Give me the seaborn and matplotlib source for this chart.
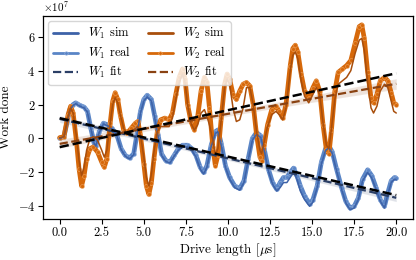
import numpy as np
import pandas as pd
import seaborn as sns
import matplotlib
matplotlib.use("Agg")
import matplotlib.pyplot as plt
from matplotlib.lines import Line2D

# ---- data (units of 1e7) ----
t1 = [0.0, 0.25, 0.45, 0.6, 0.8, 0.95, 1.2, 1.45, 1.65, 1.85, 2.05, 2.15, 2.35, 2.6, 2.85, 3.1, 3.4, 3.65, 3.9, 4.15,
      4.4, 4.6, 4.8, 5.0, 5.2, 5.45, 5.65, 5.85, 6.05, 6.3, 6.55, 6.8, 7.05, 7.3, 7.6, 7.85, 8.1, 8.35, 8.55, 8.75,
      9.0, 9.25, 9.4, 9.6, 9.85, 10.1, 10.4, 10.7, 10.95, 11.2, 11.45, 11.7, 11.95, 12.15, 12.4, 12.65, 12.9, 13.1,
      13.3, 13.5, 13.7, 13.9, 14.1, 14.3, 14.55, 14.85, 15.05, 15.3, 15.55, 15.8, 16.0, 16.2, 16.45, 16.75, 17.0,
      17.25, 17.5, 17.75, 18.0, 18.3, 18.55, 18.8, 19.05, 19.3, 19.5, 19.7, 19.9, 20.0]
w1_real = [0.0, 0.1, 1.0, 1.7, 2.0, 2.1, 1.95, 1.85, 1.6, 0.6, -0.3, -0.45, 0.4, 0.9, 0.8, 0.6, 0.2, -0.6, -1.0, -1.15,
           -0.9, 0.3, 1.6, 2.3, 2.55, 2.3, 1.3, 0.2, -0.9, -1.3, -1.4, -1.0, -0.6, -0.4, -0.4, -0.6, -1.0, -1.7, -2.0,
           -1.6, -0.4, 0.4, 0.5, -0.3, -1.6, -2.3, -2.8, -2.95, -2.5, -1.2, 0.0, 0.35, 0.15, -0.6, -1.8, -2.6, -3.0,
           -2.6, -2.3, -2.3, -2.0, -1.75, -2.2, -2.8, -3.4, -3.85, -3.6, -2.8, -1.4, -0.6, -0.45, -0.8, -1.8, -2.9,
           -3.7, -4.1, -4.0, -3.5, -2.4, -1.85, -2.2, -2.9, -3.6, -4.0, -3.2, -2.5, -2.3, -2.35]
w1_sim = [0.0, 0.1, 0.95, 1.65, 1.95, 2.05, 1.9, 1.8, 1.55, 0.6, -0.3, -0.45, 0.35, 0.85, 0.75, 0.55, 0.15, -0.65, -1.05, -1.2,
          -0.95, 0.25, 1.5, 2.2, 2.45, 2.2, 1.2, 0.1, -1.0, -1.35, -1.45, -1.05, -0.7, -0.5, -0.5, -0.7, -1.1, -1.8, -2.1,
          -1.7, -0.5, 0.3, 0.4, -0.4, -1.7, -2.4, -2.9, -3.05, -2.6, -1.3, -0.1, 0.25, 0.05, -0.7, -1.9, -2.7, -3.1,
          -2.9, -2.6, -2.6, -2.3, -2.0, -2.4, -3.1, -3.6, -4.0, -3.75, -2.9, -1.5, -0.7, -0.55, -0.9, -1.9, -3.0,
          -3.8, -4.2, -4.1, -3.6, -2.5, -2.0, -2.35, -3.0, -3.7, -4.1, -3.3, -2.6, -2.4, -2.45]

t2 = [0.0, 0.25, 0.5, 0.65, 0.8, 1.0, 1.15, 1.3, 1.45, 1.6, 1.8, 2.0, 2.25, 2.5, 2.65, 2.8, 3.0, 3.15, 3.3, 3.45, 3.6,
      3.8, 4.0, 4.25, 4.5, 4.65, 4.8, 5.0, 5.15, 5.3, 5.45, 5.6, 5.8, 6.0, 6.25, 6.5, 6.7, 6.9, 7.1, 7.3, 7.45, 7.6,
      7.8, 8.0, 8.2, 8.4, 8.6, 8.75, 8.9, 9.1, 9.25, 9.4, 9.6, 9.8, 9.95, 10.1, 10.3, 10.5, 10.7, 10.9, 11.1, 11.3,
      11.5, 11.7, 11.9, 12.0, 12.15, 12.35, 12.6, 12.85, 13.05, 13.25, 13.45, 13.7, 13.85, 14.0, 14.15, 14.35, 14.55,
      14.8, 15.05, 15.25, 15.45, 15.65, 15.85, 16.0, 16.15, 16.35, 16.55, 16.8, 17.05, 17.3, 17.55, 17.8, 17.95,
      18.1, 18.3, 18.5, 18.65, 18.85, 19.05, 19.3, 19.5, 19.7, 19.85, 20.0]
w2_real = [0.05, 0.1, 1.4, 1.9, 1.5, -0.2, -1.8, -2.8, -2.2, -1.2, -0.6, -0.5, -0.8, -1.4, -1.7, -1.2, 0.9, 2.2, 2.7,
           2.3, 1.4, 0.5, 0.3, 0.6, 0.9, 1.0, 0.2, -1.5, -2.8, -3.3, -2.6, -1.2, 0.4, 1.1, 1.2, 1.1, 1.5, 2.6, 3.6,
           4.1, 3.5, 2.0, 1.0, 0.5, 1.3, 2.8, 3.6, 3.3, 1.8, -0.5, -1.6, -1.0, 1.2, 3.2, 3.8, 3.5, 2.6, 2.3, 2.8, 3.2,
           3.3, 3.1, 2.0, 0.2, -1.1, -1.3, -0.4, 0.8, 1.7, 1.9, 1.6, 1.2, 2.0, 4.3, 5.3, 5.5, 5.1, 3.8, 2.8, 2.4, 3.0,
           3.4, 2.8, 0.8, -0.7, -0.9, 0.5, 2.8, 3.9, 4.1, 4.3, 4.6, 5.6, 6.6, 6.7, 5.9, 3.9, 2.4, 2.1, 2.6, 3.4, 3.6,
           3.4, 2.7, 2.1, 2.0]
w2_sim = [0.05, 0.1, 1.3, 1.8, 1.5, 0.1, -1.3, -2.2, -1.7, -0.7, 0.0, 0.1, -0.1, -0.7, -1.1, -0.7, 0.9, 2.0, 2.4,
          2.1, 1.4, 0.6, 0.3, 0.4, 0.6, 0.7, 0.2, -1.1, -2.3, -2.8, -2.1, -0.8, 0.4, 0.7, 0.7, 0.7, 1.2, 2.3, 3.3,
          3.8, 3.3, 2.0, 0.9, 0.5, 0.8, 1.5, 1.7, 1.3, 0.8, -0.1, -1.0, -0.6, 1.1, 3.0, 3.5, 3.2, 1.8, 1.0, 1.1, 1.8,
          3.0, 3.0, 2.0, 0.4, -0.7, -0.9, -0.2, 0.7, 1.4, 1.6, 1.4, 1.1, 1.8, 4.0, 4.9, 5.1, 4.7, 3.4, 2.5, 2.1, 2.6,
          3.0, 2.6, 0.9, -0.4, -0.6, 0.6, 2.3, 3.2, 3.4, 3.6, 4.0, 5.0, 5.8, 5.9, 5.2, 3.3, 1.8, 1.5, 1.9, 2.8, 3.2,
          3.0, 2.2, 1.6, 1.5]

SCALE = 1e7
labels = ["$W_1$ sim", "$W_1$ real", "$W_1$ fit", "$W_2$ sim", "$W_2$ real", "$W_2$ fit"]

# colours
c1_sim, c1_real, c1_fit = "#3D62A8", "#5A85C6", "#2B3F66"
c2_sim, c2_real, c2_fit = "#A84E0C", "#D6680A", "#8A4212"
e1_real, e2_real = "#9DB6E0", "#F2AE6E"

sns.set_theme(style="ticks")
plt.rcParams.update({
    "font.family": ["serif"],
    "font.serif": ["cmr10", "DejaVu Serif"],
    "mathtext.fontset": "cm",
    "axes.formatter.use_mathtext": True,
    "axes.unicode_minus": True,
    "font.size": 9,
    "axes.labelsize": 9.5,
    "xtick.labelsize": 9,
    "ytick.labelsize": 9,
    "legend.fontsize": 9,
    "axes.edgecolor": "black",
    "xtick.color": "black",
    "ytick.color": "black",
    "axes.labelcolor": "black",
    "text.color": "black",
})

df1 = pd.DataFrame({"t": t1, "real": np.array(w1_real) * SCALE, "sim": np.array(w1_sim) * SCALE})
df2 = pd.DataFrame({"t": t2, "real": np.array(w2_real) * SCALE, "sim": np.array(w2_sim) * SCALE})

fig = plt.figure(figsize=(4.16, 2.6), dpi=100)
ax = fig.add_axes([0.103, 0.158, 0.890, 0.782])

for df, cs, cr, cf, ce in [(df1, c1_sim, c1_real, c1_fit, e1_real), (df2, c2_sim, c2_real, c2_fit, e2_real)]:
    sns.regplot(data=df, x="t", y="sim", scatter=False, ci=68, seed=0, color=cf, ax=ax,
                line_kws=dict(ls="--", lw=1.6, zorder=4))
    sns.lineplot(data=df, x="t", y="real", color=cr, lw=3.4, marker="o", markersize=2.8,
                 mew=0.35, mec=ce, ax=ax, zorder=2)
    sns.lineplot(data=df, x="t", y="sim", color=cs, lw=1.1, ax=ax, zorder=3)
    sns.regplot(data=df, x="t", y="real", scatter=False, ci=None, color="black", ax=ax,
                line_kws=dict(ls="--", lw=1.8, zorder=5))

ax.set_xlabel(r"Drive length [$\mu$s]", labelpad=2)
ax.set_ylabel("Work done", labelpad=4)
ax.set_xticks([0, 2.5, 5, 7.5, 10, 12.5, 15, 17.5, 20])
ax.set_xticklabels(["0.0", "2.5", "5.0", "7.5", "10.0", "12.5", "15.0", "17.5", "20.0"])
ax.tick_params(length=3.5, width=0.8, pad=2)
ax.yaxis.get_offset_text().set_fontsize(8)
for s in ax.spines.values():
    s.set_linewidth(0.9)

handles = [
    Line2D([], [], color=c1_sim, lw=2.0),
    Line2D([], [], color=c1_real, lw=2.0, marker="o", markersize=2.5, mec=e1_real, mew=0.4),
    Line2D([], [], color=c1_fit, lw=1.6, ls="--"),
    Line2D([], [], color=c2_sim, lw=2.0),
    Line2D([], [], color=c2_real, lw=2.0, marker="o", markersize=2.5, mec=e2_real, mew=0.4),
    Line2D([], [], color=c2_fit, lw=1.6, ls="--"),
]
ax.legend(handles, labels, ncol=2, loc="upper left", frameon=True, handlelength=2.0,
          borderaxespad=0.45, labelspacing=0.3, columnspacing=1.3, handletextpad=0.8,
          borderpad=0.4)

fig.savefig("out.png", dpi=100)
